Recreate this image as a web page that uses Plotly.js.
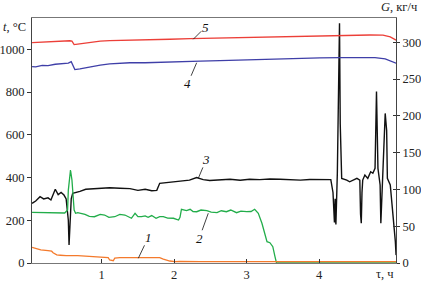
<!DOCTYPE html>
<html>
<head>
<meta charset="utf-8">
<script src="https://cdn.plot.ly/plotly-3.0.1.min.js"></script>
<style>html,body{margin:0;padding:0;background:#fff;}#chart{width:421px;height:283px;}</style>
</head>
<body>
<div id="chart"></div>
<script>
// Curve 1 (orange), G, kg/h
const s1X = [0.04,0.09,0.16,0.26,0.31,0.33,0.38,0.43,0.51,0.67,0.84,0.98,1.09,1.11,1.16,1.18,1.25,1.53,1.80,1.85,1.94,2.01,2.08,2.36,3.04,3.74,4.42,5.06];
const s1G = [21.3,20.0,17.7,16.7,16.0,14.0,11.0,10.5,9.9,9.9,9.2,8.0,7.2,4.1,3.1,6.5,7.2,7.2,7.2,5.4,2.7,1.8,2.2,1.8,1.8,1.8,1.8,1.8];

// Curve 2 (green), G, kg/h
const s2X = [0.04,0.15,0.29,0.42,0.49,0.53,0.54,0.57,0.59,0.62,0.64,0.67,0.77,0.83,0.90,0.98,1.04,1.10,1.18,1.25,1.32,1.41,1.46,1.50,1.55,1.60,1.64,1.69,1.75,1.80,1.85,1.91,1.99,2.06,2.08,2.10,2.17,2.22,2.26,2.31,2.37,2.45,2.51,2.59,2.65,2.72,2.78,2.86,2.92,3.00,3.06,3.11,3.16,3.21,3.25,3.28,3.32,3.36,3.39,3.41,3.60,4.01,4.56,5.06];
const s2G = [68.9,68.5,68.5,68.2,68.0,72.0,99.0,126.4,112.8,72.0,67.6,68.4,66.2,63.5,62.9,66.0,65.2,62.0,62.9,66.0,65.2,60.8,67.6,63.0,62.9,64.0,62.1,64.5,60.8,63.0,62.9,61.0,60.8,58.4,62.0,73.0,71.1,73.0,70.0,69.7,72.0,71.1,69.0,68.4,71.0,69.7,72.0,68.4,70.5,69.7,70.0,73.0,67.6,54.0,40.4,29.0,27.6,22.2,8.6,0.4,0,0,0,0];

// Curve 3 (black), t, °C
const s3X = [0.04,0.09,0.15,0.20,0.26,0.30,0.36,0.40,0.44,0.48,0.51,0.54,0.55,0.56,0.58,0.60,0.65,0.70,0.78,0.89,0.98,1.11,1.25,1.39,1.50,1.60,1.69,1.76,1.80,1.94,2.08,2.21,2.31,2.40,2.49,2.63,2.77,2.91,3.04,3.18,3.32,3.46,3.60,3.74,3.87,4.01,4.11,4.16,4.19,4.21,4.22,4.23,4.25,4.27,4.28,4.29,4.31,4.38,4.42,4.52,4.56,4.57,4.58,4.59,4.60,4.63,4.67,4.71,4.74,4.77,4.79,4.81,4.84,4.85,4.87,4.91,4.93,4.94,4.98,5.02,5.05,5.06];
const s3T = [279,290,310,300,305,295,345,320,330,318,300,200,84,150,300,326,330,335,345,348,350,352,350,348,340,345,338,340,373,378,383,388,400,390,386,388,392,387,392,390,393,392,390,388,391,390,388,390,330,190,300,180,420,900,1122,650,396,388,380,396,388,230,186,330,388,412,396,427,420,443,802,443,365,186,380,700,620,396,365,225,100,37];

// Curve 4 (blue), t, °C
const s4X = [0.04,0.09,0.18,0.26,0.36,0.45,0.54,0.58,0.60,0.63,0.70,0.84,0.98,1.11,1.25,1.39,1.60,1.80,2.08,2.36,2.63,2.91,3.18,3.46,3.74,4.01,4.29,4.56,4.77,4.91,5.06];
const s4T = [919,918,925,924,930,932,935,942,925,905,908,918,926,932,935,937,937,940,942,945,947,950,953,956,958,960,961,962,961,955,935];

// Curve 5 (red), t, °C
const s5X = [0.04,0.15,0.29,0.42,0.56,0.59,0.62,0.67,0.84,0.98,1.11,1.39,1.67,1.94,2.22,2.49,2.77,3.05,3.32,3.60,3.87,4.15,4.42,4.70,4.88,4.98,5.06];
const s5T = [1031,1033,1036,1038,1040,1038,1022,1024,1033,1038,1041,1042,1045,1047,1050,1052,1055,1057,1059,1062,1064,1066,1067,1067,1066,1058,1043];

const xTicks = [1,2,3,4];
const tTicks = [0,200,400,600,800,1000];
const gTicks = [0,50,100,150,200,250,300];

const curveLabels = ['1','2','3','4','5'];

const FONT = 'Liberation Serif, Times New Roman, serif';

const traces = [
  {x:s2X, y:s2G, yaxis:'y2', mode:'lines', line:{color:'#22ad4a', width:1.3}, hoverinfo:'skip'},
  {x:s1X, y:s1G, yaxis:'y2', mode:'lines', line:{color:'#f47a2c', width:1.3}, hoverinfo:'skip'},
  {x:s3X, y:s3T, yaxis:'y', mode:'lines', line:{color:'#111111', width:1.4}, hoverinfo:'skip'},
  {x:s4X, y:s4T, yaxis:'y', mode:'lines', line:{color:'#3f3fa8', width:1.3}, hoverinfo:'skip'},
  {x:s5X, y:s5T, yaxis:'y', mode:'lines', line:{color:'#ec3f38', width:1.3}, hoverinfo:'skip'},
  {x:[null], y:[null], yaxis:'y3', mode:'lines', showlegend:false, hoverinfo:'skip'}
];

const lblFont = {family: FONT, size: 13, color: '#111'};
function lbl(text, x, y, yref, ax, ay) {
  return {text:'<i>'+text+'</i>', x:x, y:y, xref:'x', yref:yref, ax:ax, ay:ay,
    showarrow:true, arrowhead:0, arrowwidth:0.8, arrowcolor:'#111', standoff:0, startstandoff:0,
    font:lblFont, borderpad:0};
}

const layout = {
  width:421, height:283,
  margin:{l:32, r:25, t:18, b:20},
  paper_bgcolor:'#fff', plot_bgcolor:'#fff',
  showlegend:false,
  font:{family:FONT, size:12.5, color:'#222'},
  xaxis:{range:[0.039,5.059], tickvals:xTicks, ticktext:xTicks.map(String), ticks:'inside', ticklen:4, tickcolor:'#333',
    showline:true, linecolor:'#777', linewidth:1, mirror:true, showgrid:false, zeroline:false,
    tickfont:{family:FONT, size:12.5, color:'#222'}},
  yaxis:{range:[0,1146.5], tickvals:tTicks, ticks:'outside', ticklen:4, tickcolor:'#333',
    showline:true, linecolor:'#444', linewidth:1, showgrid:false, zeroline:false,
    tickfont:{family:FONT, size:12.5, color:'#222'}},
  yaxis2:{range:[0,333], tickvals:gTicks, overlaying:'y', side:'right', ticks:'outside', ticklen:3, tickcolor:'#333',
    showline:true, linecolor:'#444', linewidth:1, showgrid:false, zeroline:false,
    tickfont:{family:FONT, size:12.5, color:'#222'}},
  yaxis3:{range:[0,333], tickvals:gTicks, overlaying:'y', side:'right', ticks:'inside', ticklen:3, tickcolor:'#333',
    showticklabels:false, showline:false, showgrid:false, zeroline:false},
  annotations:[
    {text:'<i>t</i>, °C', xref:'paper', yref:'paper', x:-0.085, y:0.963, xanchor:'left', yanchor:'middle', showarrow:false, font:{family:FONT, size:12.5, color:'#222'}},
    {text:'<i>G</i>, кг/ч', xref:'paper', yref:'paper', x:1.062, y:1.045, xanchor:'right', yanchor:'middle', showarrow:false, font:{family:FONT, size:12.5, color:'#222'}},
    {text:'τ, ч', xref:'paper', yref:'paper', x:0.97, y:-0.045, xanchor:'center', yanchor:'middle', showarrow:false, font:{family:FONT, size:12.5, color:'#222'}},
    lbl(curveLabels[0], 1.505, 6.4, 'y2', 10, -21),
    lbl(curveLabels[1], 2.47, 67.6, 'y2', -9, 25),
    lbl(curveLabels[2], 2.332, 396, 'y', 8, -19),
    lbl(curveLabels[3], 2.31, 937, 'y', -9, 21),
    lbl(curveLabels[4], 2.263, 1047, 'y', 12, -12)
  ]
};

Plotly.newPlot('chart', traces, layout, {displayModeBar:false, staticPlot:true});
</script>
</body>
</html>
